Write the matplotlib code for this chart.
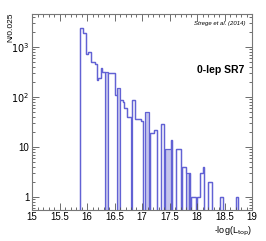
import matplotlib
matplotlib.use("Agg")
import matplotlib.pyplot as plt
import numpy as np
from matplotlib.ticker import MultipleLocator, LogLocator, FuncFormatter, NullFormatter

plt.rcParams['font.family'] = ['Liberation Sans', 'DejaVu Sans']

# binning: 0.025 wide bins from 15.875 to 18.75
x_start = 15.875
bin_width = 0.025

# all entries per bin (light blue filled histogram)
total = [2400, 2400, 1900, 1900, 730, 730, 800, 800, 500, 500,
         500, 470, 220, 240, 240, 380, 320, 320, 320, 320,
         310, 310, 310, 310, 310, 110, 110, 150, 150, 87,
         87, 80, 60, 60, 40, 40, 40, 40, 87, 87,
         36, 36, 36, 36, 33, 33, 0, 50, 50, 50,
         0, 19, 19, 19, 22, 22, 0, 0, 0, 29,
         29, 0, 9, 9, 9, 9, 14, 0, 0, 0,
         9, 9, 9, 0, 4, 4, 4, 3, 3, 3,
         0, 1, 1, 1, 0, 1, 1, 3, 3, 4,
         0, 0, 0, 2, 2, 2, 0, 0, 0, 0,
         0, 0, 1, 1, 0, 0, 0, 0, 0, 0,
         0, 0, 0, 1, 1]

# bins drawn white on top (the light blue bands are where this is empty)
passed = [2400, 2400, 1900, 1900, 730, 730, 800, 800, 500, 500,
          500, 470, 220, 240, 240, 380, 320, 320, 0, 0,
          310, 310, 310, 310, 310, 110, 110, 0, 0, 87,
          87, 80, 60, 60, 40, 40, 40, 0, 87, 87,
          36, 36, 36, 36, 33, 33, 0, 0, 0, 0,
          0, 19, 19, 19, 22, 22, 0, 0, 0, 29,
          29, 0, 0, 0, 0, 0, 14, 0, 0, 0,
          9, 9, 9, 0, 4, 4, 4, 0, 0, 3,
          0, 1, 1, 1, 0, 1, 1, 3, 3, 4,
          0, 0, 0, 2, 2, 2, 0, 0, 0, 0,
          0, 0, 1, 1, 0, 0, 0, 0, 0, 0,
          0, 0, 0, 1, 1]

total = np.array(total, dtype=float)
passed = np.array(passed, dtype=float)
edges = x_start + bin_width * np.arange(len(total) + 1)

line_col = '#6262d4'
fill_col = '#c4c4ec'
floor = 1e-3

fig = plt.figure(figsize=(2.66, 2.41), dpi=100)
ax = fig.add_axes([32 / 266, 1 - 210 / 241, 220 / 266, 196 / 241])

ax.stairs(np.maximum(total, floor), edges, baseline=floor, fill=True, color=fill_col, lw=0)
ax.stairs(np.maximum(passed, floor), edges, baseline=floor, fill=True, color='white', lw=0)
ax.stairs(np.maximum(total, floor), edges, baseline=floor, color=line_col, lw=0.9)
ax.stairs(np.maximum(passed, floor), edges, baseline=floor, color=line_col, lw=0.9)

ax.set_yscale('log')
ax.set_xlim(15, 19)
ax.set_ylim(0.55, 4600)

# ROOT-like axes
ax.xaxis.set_major_locator(MultipleLocator(0.5))
ax.xaxis.set_minor_locator(MultipleLocator(0.1))
ax.xaxis.set_major_formatter(FuncFormatter(lambda v, p: f"{v:g}"))
ax.yaxis.set_major_locator(LogLocator(base=10, numticks=10))
ax.yaxis.set_minor_locator(LogLocator(base=10, subs=np.arange(2, 10), numticks=10))
ax.yaxis.set_minor_formatter(NullFormatter())


def ylab(v, p):
    if v == 1:
        return "1"
    if v == 10:
        return "10"
    return r"$10^{%d}$" % int(round(np.log10(v)))


ax.yaxis.set_major_formatter(FuncFormatter(ylab))
ax.tick_params(which='both', direction='in', top=True, right=True,
               labelsize=7, color='#555555', width=0.6)
ax.tick_params(axis='x', pad=1.5)
ax.tick_params(axis='y', pad=2)
ax.tick_params(which='major', length=5)
ax.tick_params(which='minor', length=2.5)
for s in ax.spines.values():
    s.set_color('#777777')
    s.set_linewidth(0.8)

fig.text(11 / 266, 1 - 13 / 241, "N/0.025", rotation=90, ha='center', va='top', fontsize=6)
fig.text(252 / 266, 1 - 231 / 241, r"-log(L$_{\rm top}$)", ha='right', va='center', fontsize=6.5)
ax.text(0.97, 0.95, "Strege et al. (2014)", transform=ax.transAxes, ha='right', va='center',
        fontsize=4.3, style='italic')
ax.text(221 / 266, 1 - 70 / 241, "0-lep SR7", transform=fig.transFigure, ha='center', va='center',
        fontsize=7.5, fontweight='bold')

fig.savefig("out.png", dpi=100)
